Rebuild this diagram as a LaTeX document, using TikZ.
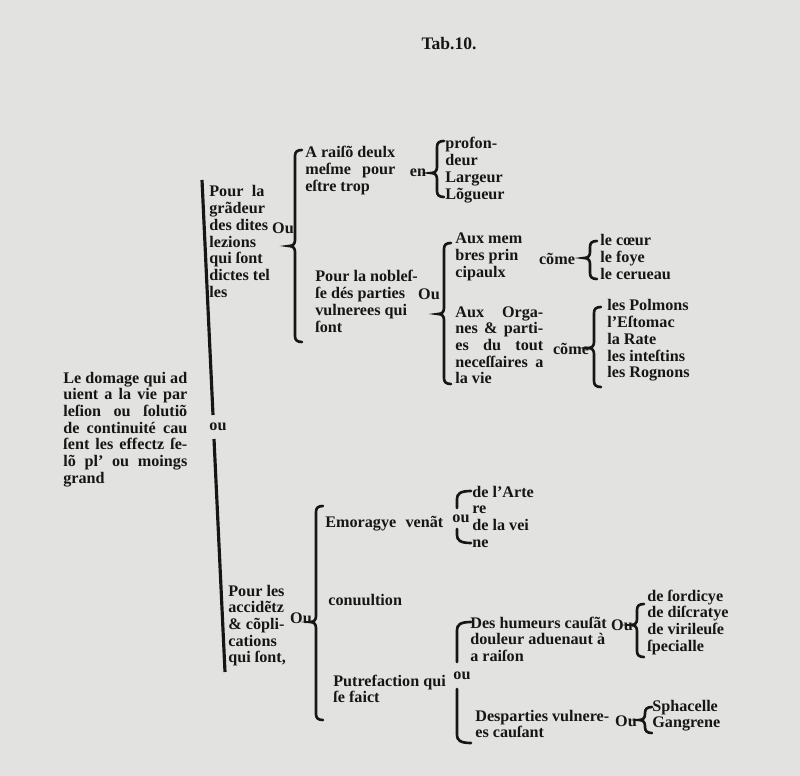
\documentclass[tikz,border=0pt]{standalone}
\usepackage{fontspec}
\setmainfont{Liberation Serif}
\definecolor{paper}{RGB}{226,226,224}
\definecolor{ink}{RGB}{22,22,22}
\newcommand\tl[1]{\vtop{\halign{##\hfil\cr#1\crcr}}}
\newcommand\J[2]{\makebox[#1][s]{#2}}
\newcommand\lbr[4]{%
  \draw[bracestyle] (#1+7,#2) .. controls (#1+2,#2) and (#1,#2+2) .. (#1,#2+6)
    -- (#1,#3-6) .. controls (#1,#3-2) and (#1-2,#3) .. (#1-6,#3)
    .. controls (#1-2,#3) and (#1,#3+2) .. (#1,#3+6)
    -- (#1,#4-6) .. controls (#1,#4-2) and (#1+2,#4) .. (#1+7,#4);}
\newcommand\gbr[5]{%
  \draw[bracestyle] (#1+14,#2) .. controls (#1+3,#2) and (#1,#2+3) .. (#1,#2+8) -- (#1,#3);
  \draw[bracestyle] (#1,#4) -- (#1,#5-8) .. controls (#1,#5-3) and (#1+3,#5) .. (#1+14,#5);}
\tikzset{
  txt/.style={anchor=base west, inner sep=0pt, text=ink,
    font=\fontsize{9.2}{9.5}\selectfont\bfseries},
  word/.style={anchor=center, inner sep=0pt, text=ink,
    font=\fontsize{9.2}{9.5}\selectfont\bfseries},
  bracestyle/.style={draw=ink, line width=1.5pt, line cap=round},
  barstyle/.style={draw=ink, line width=1.8pt},
}
\begin{document}
\begin{tikzpicture}[x=0.02cm,y=-0.02cm]
\fill[paper] (0,0) rectangle (800,776);
\useasboundingbox (0,0) rectangle (800,776);

\node[word, font=\fontsize{10}{10}\selectfont\bfseries] (title) at (449,44) {Tab.10.};

% root
\node[txt] (root) at (63,383) {\tl{\J{2.48cm}{Le domage qui ad}\cr
\J{2.48cm}{uient a la vie par}\cr
\J{2.48cm}{leſion ou ſolutiõ}\cr
\J{2.48cm}{de continuité cau}\cr
\J{2.48cm}{ſent les effectz ſe-}\cr
\J{2.48cm}{lõ pl’ ou moings}\cr
grand}};

% main bar
\coordinate (bartop) at (202,180);
\coordinate (barbot) at (225,672);
\node[word] (ou0) at (218,427) {ou};
\draw[barstyle] (bartop) -- (213,415);
\draw[barstyle] (214,439) -- (barbot);

% upper branch
\node[txt] (A) at (209,197) {\tl{\J{1.1cm}{Pour la}\cr grãdeur\cr des dites\cr lezions\cr qui ſont\cr dictes tel\cr les}};
\node[word] (ouA) at (283,228) {Ou};
\lbr{295}{150}{246}{342}

\node[txt] (A1) at (305,158) {\tl{A raiſõ deulx\cr \J{1.8cm}{meſme pour}\cr eſtre trop}};
\node[word] (en) at (418,173) {en};
\lbr{437}{141}{173}{197}
\node[txt] (dims) at (445,149) {\tl{profon-\cr deur\cr Largeur\cr Lõgueur}};

\node[txt] (A2) at (315,282) {\tl{Pour la nobleſ-\cr ſe dés parties\cr vulnerees qui\cr ſont}};
\node[word] (ouA2) at (429,294) {Ou};
\lbr{444}{243}{314}{384}

\node[txt] (A2a) at (455,244) {\tl{Aux mem\cr bres prin\cr cipaulx}};
\node[word] (come1) at (557,259) {cõme};
\lbr{590}{241}{258}{279}
\node[txt] (org1) at (600,246) {\tl{le cœur\cr le foye\cr le cerueau}};

\node[txt] (A2b) at (455,317) {\tl{\J{1.76cm}{Aux Orga-}\cr \J{1.76cm}{nes \& parti-}\cr \J{1.76cm}{es du tout}\cr \J{1.76cm}{neceſſaires a}\cr la vie}};
\node[word] (come2) at (571,349) {cõme};
\lbr{594}{307}{348}{387}
\node[txt] (org2) at (607,311) {\tl{les Polmons\cr l’Eſtomac\cr la Rate\cr les inteſtins\cr les Rognons}};

% lower branch
\node[txt] (B) at (228,596) {\tl{Pour les\cr accidẽtz\cr \& cõpli-\cr cations\cr qui ſont,}};
\node[word] (ouB) at (301,618) {Ou};
\lbr{316}{506}{622}{720}

\node[txt] (B1) at (325,527) {\J{2.36cm}{Emoragye venãt}};
\node[word] (ouB1) at (461,519) {ou};
\gbr{457}{491}{508}{529}{543}
\node[txt] (veins) at (472,497) {\tl{de l’Arte\cr re\cr de la vei\cr ne}};

\node[txt] (B2) at (328,605) {conuultion};

\node[txt] (B3) at (333,686) {\tl{Putrefaction qui\cr ſe faict}};
\node[word] (ouB3) at (462,676) {ou};
\gbr{457}{622}{662}{689}{743}

\node[txt] (B3a) at (470,628) {\tl{Des humeurs cauſãt\cr douleur aduenaut à\cr a raiſon}};
\node[word] (ouB3a) at (622,625) {Ou};
\lbr{637}{604}{625}{657}
\node[txt] (hum) at (647,601) {\tl{de ſordicye\cr de diſcratye\cr de virileuſe\cr ſpecialle}};

\node[txt] (B3b) at (475,721) {\tl{Desparties vulnere-\cr es cauſant}};
\node[word] (ouB3b) at (626,721) {Ou};
\lbr{645}{707}{720}{733}
\node[txt] (gang) at (652,711) {\tl{Sphacelle\cr Gangrene}};
\end{tikzpicture}
\end{document}
